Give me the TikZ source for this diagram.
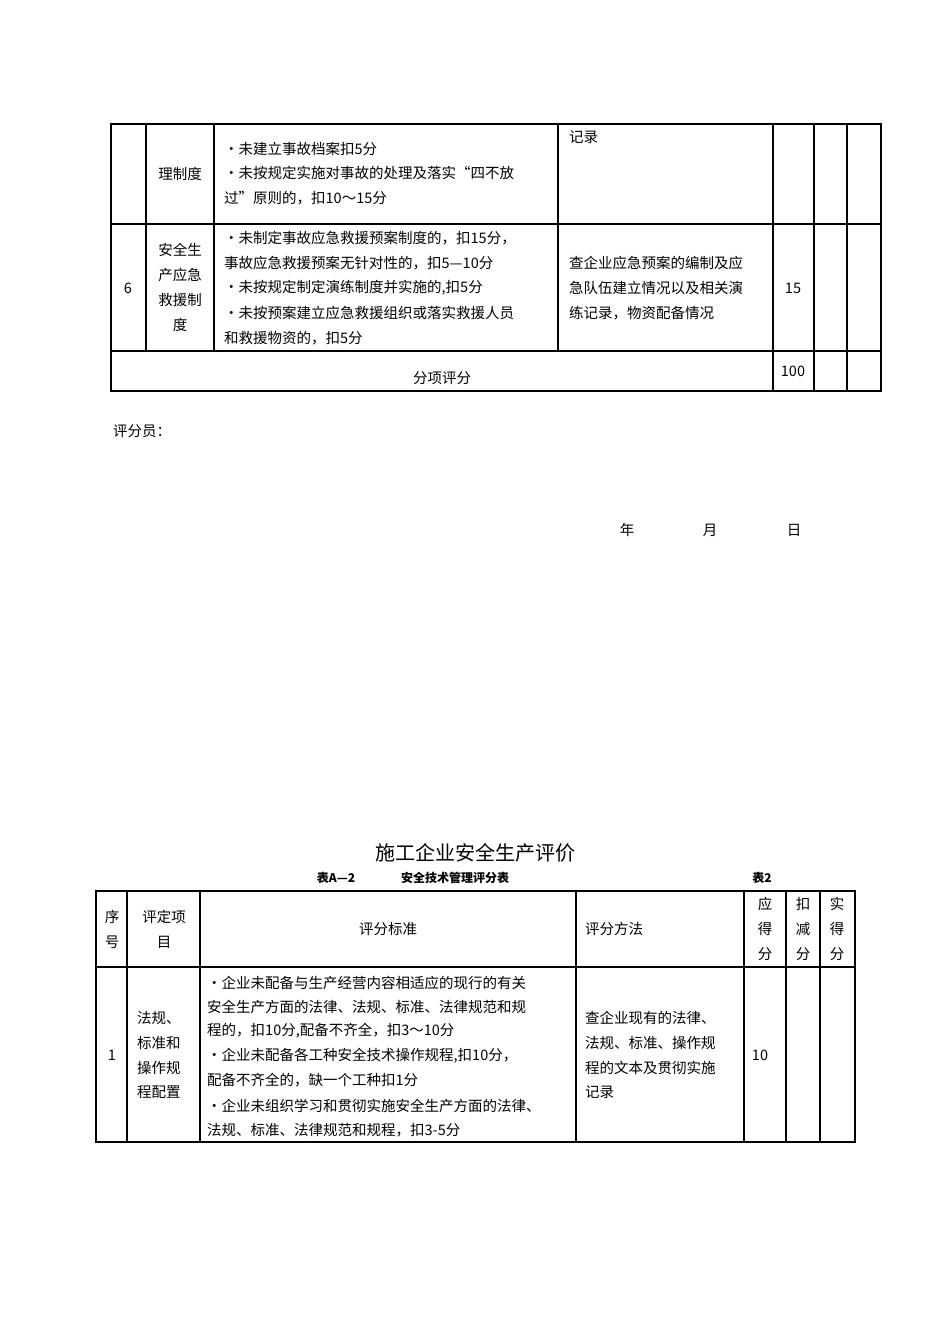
\documentclass[tikz,border=0pt]{standalone}
\usepackage{fontspec}
\setmainfont{Noto Sans CJK SC}
\begin{document}
\begin{tikzpicture}[x=1pt,y=-1pt,
  t/.style={inner sep=0pt,font=\fontsize{14.5}{16}\selectfont},
  tl/.style={t,anchor=west},
  ln/.style={line width=1.3pt},
  bd/.style={line width=1.8pt}]
\useasboundingbox[fill=white] (0,0) rectangle (950,1344);
% top table
\draw[bd] (111,124) rectangle (881,391);
\draw[ln] (111,224) -- (881,224) (111,351) -- (881,351);
\foreach \x in {146,214,558} \draw[ln] (\x,124) -- (\x,351);
\foreach \x in {773,814,847} \draw[ln] (\x,124) -- (\x,391);
\node[tl] (a1) at (569,137) {记录};
\node[t] (a2) at (180,174) {理制度};
\node[tl] (a3) at (224,149) {•未建立事故档案扣5分};
\node[tl] (a4) at (224,173) {•未按规定实施对事故的处理及落实“四不放};
\node[tl] (a5) at (224,198) {过”原则的，扣10～15分};
\node[t] (b0) at (128,288) {6};
\node[t] (b1) at (180,250) {安全生};
\node[t] (b2) at (180,275) {产应急};
\node[t] (b3) at (180,300) {救援制};
\node[t] (b4) at (180,325) {度};
\node[tl] (c1) at (224,238) {•未制定事故应急救援预案制度的，扣15分，};
\node[tl] (c2) at (224,263) {事故应急救援预案无针对性的，扣5—10分};
\node[tl] (c3) at (224,288) {•未按规定制定演练制度并实施的,扣5分};
\node[tl] (c4) at (224,313) {•未按预案建立应急救援组织或落实救援人员};
\node[tl] (c5) at (224,338) {和救援物资的，扣5分};
\node[tl] (d1) at (569,263) {查企业应急预案的编制及应};
\node[tl] (d2) at (569,288) {急队伍建立情况以及相关演};
\node[tl] (d3) at (569,313) {练记录，物资配备情况};
\node[t] (e1) at (793,288) {15};
\node[t] (e2) at (442,378) {分项评分};
\node[t] (e3) at (793,371) {100};
\node[tl] (f1) at (113,431) {评分员：};
\node[t] (f2) at (627,530) {年};
\node[t] (f3) at (710,530) {月};
\node[t] (f4) at (794,530) {日};
% title
\node[inner sep=0pt,font=\fontsize{20}{22}\selectfont] (g1) at (475,853) {施工企业安全生产评价};
\node[t,font=\fontsize{12}{14}\selectfont\bfseries] (g2) at (336,878) {表A—2};
\node[t,font=\fontsize{12}{14}\selectfont\bfseries] (g3) at (455,878) {安全技术管理评分表};
\node[t,font=\fontsize{12}{14}\selectfont\bfseries] (g4) at (762,878) {表2};
% bottom table
\draw[bd] (96,891) rectangle (855,1142);
\draw[ln] (96,967) -- (855,967);
\foreach \x in {127,200,576,744,786,820} \draw[ln] (\x,891) -- (\x,1142);
\node[t] (h1) at (112,917) {序};
\node[t] (h2) at (112,942) {号};
\node[t] (h3) at (164,917) {评定项};
\node[t] (h4) at (164,942) {目};
\node[t] (h5) at (388,929) {评分标准};
\node[tl] (h6) at (585,929) {评分方法};
\node[t] (i1) at (765,904) {应};
\node[t] (i2) at (765,929) {得};
\node[t] (i3) at (765,954) {分};
\node[t] (i4) at (803,904) {扣};
\node[t] (i5) at (803,929) {减};
\node[t] (i6) at (803,954) {分};
\node[t] (i7) at (837,904) {实};
\node[t] (i8) at (837,929) {得};
\node[t] (i9) at (837,954) {分};
\node[t] (j0) at (112,1055) {1};
\node[tl] (j1) at (137,1018) {法规、};
\node[tl] (j2) at (137,1043) {标准和};
\node[tl] (j3) at (137,1068) {操作规};
\node[tl] (j4) at (137,1092) {程配置};
\node[tl] (k1) at (207,983) {•企业未配备与生产经营内容相适应的现行的有关};
\node[tl] (k2) at (207,1007) {安全生产方面的法律、法规、标准、法律规范和规};
\node[tl] (k3) at (207,1031) {程的，扣10分,配备不齐全，扣3～10分};
\node[tl] (k4) at (207,1056) {•企业未配备各工种安全技术操作规程,扣10分，};
\node[tl] (k5) at (207,1080) {配备不齐全的，缺一个工种扣1分};
\node[tl] (k6) at (207,1106) {•企业未组织学习和贯彻实施安全生产方面的法律、};
\node[tl] (k7) at (207,1130) {法规、标准、法律规范和规程，扣3-5分};
\node[tl] (l1) at (585,1018) {查企业现有的法律、};
\node[tl] (l2) at (585,1043) {法规、标准、操作规};
\node[tl] (l3) at (585,1068) {程的文本及贯彻实施};
\node[tl] (l4) at (585,1092) {记录};
\node[t] (m1) at (760,1055) {10};
\end{tikzpicture}
\end{document}
